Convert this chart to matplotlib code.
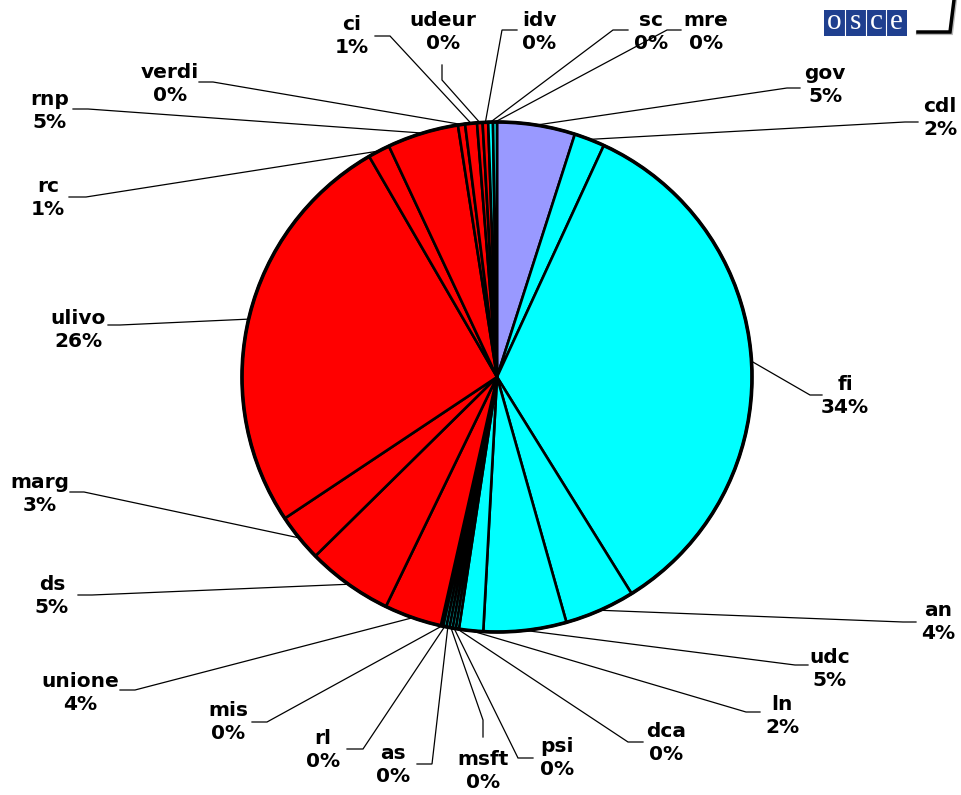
import numpy as np
import matplotlib.pyplot as plt
from matplotlib.patches import Rectangle

W, H = 961, 795

# share of coverage per party, clockwise from 12 o'clock
parties = ["gov", "cdl", "fi", "an", "udc", "ln", "dca", "psi", "msft", "as", "rl", "mis",
           "unione", "ds", "marg", "ulivo", "rc", "rnp", "verdi", "ci", "udeur", "idv", "sc", "mre"]
shares = [4.94, 1.94, 34.28, 4.46, 5.25, 1.53, 0.20, 0.20, 0.20, 0.20, 0.20, 0.15,
          3.64, 5.44, 3.03, 26.0, 1.39, 4.52, 0.45, 0.75, 0.35, 0.35, 0.30, 0.25]
LAV, CY, RD = "#9999ff", "#00ffff", "#ff0000"
colors = [LAV, CY, CY, CY, CY, CY, CY, CY, CY, CY, CY, CY,
          RD, RD, RD, RD, RD, RD, RD, RD, RD, RD, CY, CY]

# label centres (pixels, top-left origin)
label_pos = [(825, 85), (940, 118), (845, 396), (938, 622), (830, 669), (782, 716),
             (666, 743), (557, 758), (483, 771), (393, 765), (323, 750), (228, 722),
             (80, 693), (52, 596), (40, 494), (78, 330), (48, 198), (50, 111),
             (170, 84), (352, 36), (443, 32), (539, 32), (651, 32), (706, 32)]
# short leader stub near each label: (x0, y0, x1, y1)
stubs = [(800, 88, 787, 88), (918, 122, 905, 122), (822, 395, 810, 395), (916, 622, 903, 622),
         (808, 665, 795, 665), (760, 712, 746, 712), (643, 742, 628, 742), (533, 758, 518, 758),
         (483, 737, 483, 720), (417, 764, 432, 764), (347, 749, 363, 749), (252, 722, 267, 722),
         (120, 690, 135, 690), (78, 595, 92, 595), (70, 492, 84, 492), (108, 325, 120, 325),
         (69, 197, 86, 197), (73, 109, 88, 109), (199, 82, 213, 82), (375, 36, 390, 36),
         (442, 65, 442, 80), (517, 30, 502, 30), (628, 30, 613, 30), (681, 30, 667, 30)]


def Y(y):
    return H - y


fig = plt.figure(figsize=(W / 100, H / 100), dpi=100)
ax = fig.add_axes([0, 0, 1, 1])

cx, cy, r = 497, Y(377), 255
wedges, _ = ax.pie(shares, colors=colors, startangle=90, counterclock=False,
                   center=(cx, cy), radius=r,
                   wedgeprops=dict(edgecolor="black", linewidth=1.9))

total = sum(shares)
for w, name, v, (lx, ly), (x0, y0, x1, y1) in zip(wedges, parties, shares, label_pos, stubs):
    mid = np.deg2rad((w.theta1 + w.theta2) / 2)
    ex, ey = cx + r * np.cos(mid), cy + r * np.sin(mid)
    ax.plot([x0, x1, ex], [Y(y0), Y(y1), ey], color="black", lw=0.9, zorder=3,
            solid_joinstyle="miter")
    ax.text(lx, Y(ly), f"{name}\n{round(100 * v / total):.0f}%", ha="center", va="center",
            fontsize=14.5, fontweight="bold", linespacing=1.25, zorder=4)

# outer rim a bit heavier than the inner dividers
ax.add_patch(plt.Circle((cx, cy), r, fill=False, edgecolor="black", lw=2.6, zorder=2))

# osce logo
ax.add_patch(Rectangle((824, Y(36)), 83, 26, facecolor="#1f3f8f", edgecolor="none", zorder=5))
for i, ch in enumerate("osce"):
    ax.text(824 + 10.4 + i * 20.75, Y(22), ch, color="white", fontsize=21,
            family="Liberation Serif", ha="center", va="center", zorder=6)
    if i:
        ax.plot([824 + i * 20.75] * 2, [Y(10), Y(36)], color="white", lw=0.8, zorder=6)
ax.plot([955, 951, 918], [Y(0), Y(33), Y(33)], color="#888888", lw=3, zorder=4,
        solid_joinstyle="miter", alpha=0.6)
ax.plot([954, 950, 918], [Y(0), Y(32), Y(32)], color="black", lw=2.5, zorder=5,
        solid_joinstyle="miter")

ax.set_xlim(0, W)
ax.set_ylim(0, H)
ax.set_aspect("equal")
ax.axis("off")

fig.savefig("out.png", dpi=100)
